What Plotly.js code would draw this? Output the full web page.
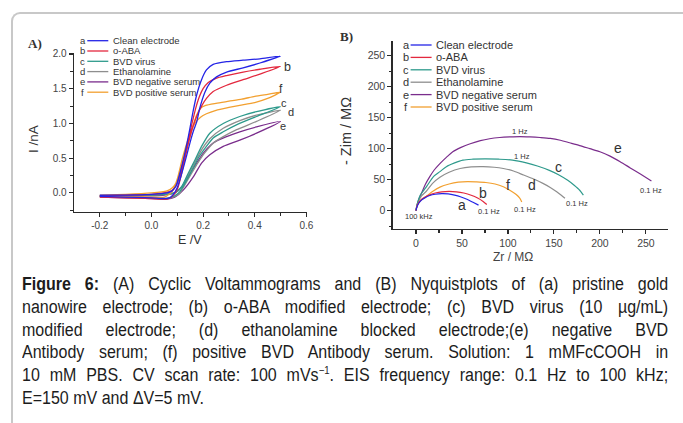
<!DOCTYPE html>
<html><head><meta charset="utf-8">
<script src="https://cdn.plot.ly/plotly-3.0.1.min.js"></script>
<style>
html,body{margin:0;padding:0;background:#fff;width:683px;height:423px;overflow:hidden;}
#frame{position:absolute;left:11px;top:12px;width:720px;height:460px;border-top:2px solid #c8c8c8;border-left:2px solid #c8c8c8;border-top-left-radius:9px;pointer-events:none;}
#chart{position:absolute;left:0;top:0;width:683px;height:423px;}
#caption{position:absolute;left:22px;top:273px;width:726px;color:#1c1c1c;transform-origin:0 0;transform:scale(0.89,1);
  font-family:"Liberation Sans", Arial, sans-serif;font-size:18px;}
#caption div{height:22.8px;line-height:22.8px;text-align:justify;text-align-last:justify;overflow:hidden;}
#caption div.last{text-align-last:left;}
</style></head><body>
<div id="chart"></div>
<div id="frame"></div>
<div id="caption">
<div><b>Figure 6:</b> (A) Cyclic Voltammograms and (B) Nyquistplots of (a) pristine gold</div>
<div>nanowire electrode; (b) o-ABA modified electrode; (c) BVD virus (10 µg/mL)</div>
<div>modified electrode; (d) ethanolamine blocked electrode;(e) negative BVD</div>
<div>Antibody serum; (f) positive BVD Antibody serum. Solution: 1 mMFcCOOH in</div>
<div>10 mM PBS. CV scan rate: 100 mVs<sup style="font-size:0.6em;line-height:0">−1</sup>. EIS frequency range: 0.1 Hz to 100 kHz;</div>
<div class="last">E=150 mV and ΔV=5 mV.</div>
</div>
<script>
// ---------- data ----------
const letters = ['a','b','c','d','e','f'];
const names = ['Clean electrode','o-ABA','BVD virus','Ethanolamine','BVD negative serum','BVD positive serum'];
const colors = ['#2424e6','#e3283e','#2e9a8c','#8e8e8e','#7a2d8c','#f2a030'];

// (A) cyclic voltammograms: E (V), I (nA)
const cvE_a = [-0.2,-0.1,0.0,0.05,0.07,0.085,0.1,0.115,0.13,0.142,0.155,0.165,0.175,0.187,0.207,0.226,0.252,0.291,0.355,0.42,0.5,0.42,0.355,0.291,0.239,0.213,0.194,0.175,0.161,0.149,0.138,0.125,0.11,0.095,0.08,0.06,0.0,-0.1,-0.2];
const cvI_a = [-0.05,-0.06,-0.07,-0.08,-0.07,-0.02,0.08,0.25,0.45,0.62,0.8,0.92,1.02,1.22,1.45,1.58,1.67,1.74,1.80,1.87,1.97,1.93,1.91,1.89,1.85,1.77,1.63,1.41,1.17,0.93,0.72,0.5,0.28,0.1,0.03,0.0,-0.02,-0.03,-0.03];
const cvE_b = [-0.2,-0.1,0.0,0.06,0.08,0.1,0.115,0.13,0.145,0.16,0.175,0.194,0.213,0.239,0.291,0.355,0.42,0.5,0.42,0.355,0.291,0.25,0.22,0.2,0.185,0.17,0.157,0.145,0.13,0.115,0.1,0.085,0.07,0.0,-0.1,-0.2];
const cvI_b = [-0.06,-0.07,-0.08,-0.09,-0.05,0.05,0.25,0.5,0.75,0.95,1.1,1.25,1.36,1.46,1.55,1.63,1.71,1.82,1.78,1.74,1.69,1.65,1.59,1.5,1.38,1.2,1.0,0.8,0.55,0.32,0.14,0.05,0.02,-0.02,-0.03,-0.04];
const cvE_c = [-0.2,-0.1,0.0,0.06,0.09,0.11,0.13,0.155,0.181,0.207,0.239,0.278,0.329,0.407,0.5,0.407,0.342,0.278,0.226,0.194,0.168,0.142,0.117,0.09,0.05,0.0,-0.1,-0.2];
const cvI_c = [-0.05,-0.06,-0.07,-0.08,-0.04,0.02,0.14,0.31,0.5,0.64,0.79,0.88,0.98,1.10,1.24,1.17,1.10,1.0,0.86,0.67,0.47,0.28,0.09,0.0,-0.02,-0.03,-0.03,-0.04];
const cvE_d = [-0.2,-0.1,0.0,0.06,0.09,0.11,0.13,0.155,0.181,0.207,0.24,0.278,0.33,0.407,0.5,0.407,0.342,0.278,0.226,0.194,0.168,0.142,0.117,0.09,0.05,0.0,-0.1,-0.2];
const cvI_d = [-0.05,-0.06,-0.07,-0.08,-0.05,0.0,0.12,0.28,0.44,0.58,0.72,0.81,0.91,1.03,1.19,1.12,1.04,0.93,0.78,0.62,0.44,0.26,0.08,0.0,-0.02,-0.03,-0.04,-0.04];
const cvE_e = [-0.2,-0.1,0.0,0.06,0.09,0.123,0.162,0.194,0.226,0.278,0.342,0.407,0.5,0.407,0.342,0.291,0.239,0.2,0.175,0.149,0.12,0.09,0.05,0.0,-0.1,-0.2];
const cvI_e = [-0.06,-0.07,-0.08,-0.09,-0.06,0.04,0.23,0.43,0.55,0.67,0.76,0.86,1.03,0.95,0.88,0.81,0.72,0.57,0.43,0.28,0.1,0.0,-0.03,-0.04,-0.04,-0.05];
const cvE_f = [-0.2,-0.1,0.0,0.05,0.08,0.1,0.12,0.14,0.155,0.168,0.19,0.213,0.25,0.3,0.342,0.4,0.45,0.5,0.45,0.4,0.35,0.3,0.25,0.21,0.19,0.175,0.16,0.145,0.13,0.115,0.1,0.08,0.06,0.0,-0.1,-0.2];
const cvI_f = [-0.05,-0.05,-0.06,-0.06,0.02,0.2,0.5,0.75,0.9,1.0,1.09,1.14,1.19,1.23,1.26,1.3,1.36,1.45,1.42,1.39,1.35,1.32,1.29,1.26,1.22,1.12,0.95,0.75,0.55,0.35,0.18,0.07,0.03,0.0,-0.02,-0.03];

// (B) Nyquist plots: Zr, -Zim (MOhm)
const zr_a = [0,1,3,6,10,15,21,28,35,42,49,56,62,68];
const zi_a = [0,6,12,17,21,24.5,26.5,27.5,27,25,22,18,13.5,9];
const zr_b = [0,1,3,6,10,15,21,28,36,44,52,60,67,73,77];
const zi_b = [0,7,13,18,22,25.5,28.5,30.5,31,30.5,28.5,25,20.5,15,10];
const zr_c = [0,1,3,5,8,12,19,26,33,42,51,62,75,90,105,120,132,145,155,165,172,178,182];
const zi_c = [0,9,19,26,32,40,55,63,71,77,81.5,83,83.5,83,81.5,77,72,65,58,49,41,33,25];
const zr_d = [0,1,3,6,11,18,26,36,48,60,73,85,95,106,117,128,138,146,153,158,162];
const zi_d = [0,8,16,24,31,44,54,62,68,70.5,71,70,68,64,57.5,51,44,37.5,30.5,25,20];
const zr_e = [0,1,3,6,10,15,20,26,33,40,49,59,70,80,91,102,113,124,135,146,157,167,178,189,200,211,222,233,244,256];
const zi_e = [0,8,18,28,42,55,66,76,86,95,102,108,113,116,118,119,119.5,119,118,116.5,113.5,109.5,105,100,95,88,79,69,59,48];
const zr_f = [0,1,3,6,11,18,26,36,46,56,66,76,86,95,102,109,113,115];
const zi_f = [0,7,13,18,23,31,38,43,46,47,46.5,45.5,43,38.5,33,26,20,14];

// tick labels
const cvXTicks = [-0.2,0.0,0.2,0.4,0.6];
const cvYTicks = [0.0,0.5,1.0,1.5,2.0];
const nyXTicks = [0,50,100,150,200,250];
const nyYTicks = [0,50,100,150,200,250];

// ---------- build ----------
const cvE = [cvE_a,cvE_b,cvE_c,cvE_d,cvE_e,cvE_f];
const cvI = [cvI_a,cvI_b,cvI_c,cvI_d,cvI_e,cvI_f];
const zr = [zr_a,zr_b,zr_c,zr_d,zr_e,zr_f];
const zi = [zi_a,zi_b,zi_c,zi_d,zi_e,zi_f];
const order = [4,3,2,5,1,0];

const FONT = '"Liberation Sans", Arial, sans-serif';
const W = 683, H = 423;
const px = v => v / W;
const py = v => 1 - v / H;

const traces = [];
order.forEach(i => traces.push({x: cvE[i], y: cvI[i], xaxis:'x', yaxis:'y', type:'scatter', mode:'lines',
  name: names[i], showlegend:false, hoverinfo:'skip',
  line:{color: colors[i], width:1.3, shape:'spline', smoothing:0.6}}));
order.forEach(i => traces.push({x: zr[i], y: zi[i], xaxis:'x2', yaxis:'y2', type:'scatter', mode:'lines',
  name: names[i], showlegend:false, hoverinfo:'skip',
  line:{color: colors[i], width:1.2, shape:'spline', smoothing:0.8}}));

const axBase = {showgrid:false, zeroline:false, showline:true, linecolor:'#2a2a2a', linewidth:1.4,
  ticks:'outside', ticklen:4, tickwidth:1.1, tickcolor:'#2a2a2a', fixedrange:true};

const annotations = [];
const shapes = [];
// legends (drawn in paper space)
function legend(x0, y0, dy, size) {
  letters.forEach((l, i) => {
    const yy = y0 + i * dy;
    annotations.push({xref:'paper', yref:'paper', x:px(x0), y:py(yy), text:l, showarrow:false,
      xanchor:'center', yanchor:'middle', font:{family:FONT, size:size, color:'#333'}});
    shapes.push({type:'line', xref:'paper', yref:'paper', x0:px(x0+4.6), x1:px(x0+25.6), y0:py(yy), y1:py(yy),
      line:{color:colors[i], width:1.3}});
    annotations.push({xref:'paper', yref:'paper', x:px(x0+28), y:py(yy), text:names[i], showarrow:false,
      xanchor:'left', yanchor:'middle', font:{family:FONT, size:size, color:'#333'}});
  });
}
legend(82.7, 40.7, 10.3, 9.5);
legend(406, 45, 12.4, 11);

// panel labels
annotations.push({xref:'paper', yref:'paper', x:px(35), y:py(43), text:'<b>A)</b>', showarrow:false,
  xanchor:'center', yanchor:'middle', font:{family:'"Liberation Serif", serif', size:13, color:'#333'}});
annotations.push({xref:'paper', yref:'paper', x:px(346), y:py(36), text:'<b>B)</b>', showarrow:false,
  xanchor:'center', yanchor:'middle', font:{family:'"Liberation Serif", serif', size:13, color:'#333'}});

// axis titles
annotations.push({xref:'paper', yref:'paper', x:px(190), y:py(240), text:'E /V', showarrow:false,
  xanchor:'center', yanchor:'middle', font:{family:FONT, size:12.5, color:'#333'}});
annotations.push({xref:'paper', yref:'paper', x:px(34), y:py(139), text:'I /nA', showarrow:false, textangle:-90,
  xanchor:'center', yanchor:'middle', font:{family:FONT, size:13.5, color:'#333'}});
annotations.push({xref:'paper', yref:'paper', x:px(513), y:py(257), text:'Zr / MΩ', showarrow:false,
  xanchor:'center', yanchor:'middle', font:{family:FONT, size:12, color:'#444'}});
annotations.push({xref:'paper', yref:'paper', x:px(346), y:py(131), text:'- Zim / MΩ', showarrow:false, textangle:-90,
  xanchor:'center', yanchor:'middle', font:{family:FONT, size:14.5, color:'#333'}});

// curve letters (A)
const cvLab = [[0.407,2.03,12.5],[0.525,1.81,12.5],[0.512,1.30,11],[0.542,1.16,11],[0.51,0.96,11],[0.503,1.50,12]];
cvLab.forEach((p, i) => annotations.push({xref:'x', yref:'y', x:p[0], y:p[1], text:letters[i], showarrow:false,
  xanchor:'center', yanchor:'middle', font:{family:FONT, size:p[2], color:'#333'}}));
// curve letters (B)
const nyLab = [[49.6,9],[73,28],[154.7,71],[125.7,41],[220,101.6],[100,41]];
nyLab.forEach((p, i) => annotations.push({xref:'x2', yref:'y2', x:p[0], y:p[1], text:letters[i], showarrow:false,
  xanchor:'center', yanchor:'middle', font:{family:FONT, size:14, color:'#333'}}));
// frequency labels (B)
const fLab = [['1 Hz',113,127],['1 Hz',115,87],['0.1 Hz',255,33],['0.1 Hz',175,12],['0.1 Hz',119,2],['0.1 Hz',79,-1.6],['100 kHz',3,-9.7]];
fLab.forEach(p => annotations.push({xref:'x2', yref:'y2', x:p[1], y:p[2], text:p[0], showarrow:false,
  xanchor:'center', yanchor:'middle', font:{family:FONT, size:7.5, color:'#333'}}));

const layout = {
  width: W, height: H, margin:{l:0,r:0,t:0,b:0},
  paper_bgcolor:'rgba(0,0,0,0)', plot_bgcolor:'rgba(0,0,0,0)', showlegend:false,
  xaxis: Object.assign({}, axBase, {domain:[0.1083,0.449], anchor:'y', range:[-0.3,0.601],
    tickvals: cvXTicks, ticktext: cvXTicks.map(v => v.toFixed(1)),
    minor:{tickvals:[-0.1,0.1,0.3,0.5], ticks:'outside', ticklen:2.5, tickcolor:'#2a2a2a'},
    tickfont:{family:FONT, size:10, color:'#444'}}),
  yaxis: Object.assign({}, axBase, {domain:[0.4995,0.8757], anchor:'x', range:[-0.27,2.02],
    tickvals: cvYTicks, ticktext: cvYTicks.map(v => v.toFixed(1)),
    minor:{tickvals:[-0.25,0.25,0.75,1.25,1.75], ticks:'outside', ticklen:2.5, tickcolor:'#2a2a2a'},
    tickfont:{family:FONT, size:10, color:'#444'}}),
  xaxis2: Object.assign({}, axBase, {domain:[0.575,0.978], anchor:'y2', range:[-25.3,274],
    tickvals: nyXTicks, ticktext: nyXTicks.map(String),
    minor:{tickvals:[25,75,125,175,225], ticks:'outside', ticklen:2.5, tickcolor:'#2a2a2a'},
    tickfont:{family:FONT, size:10.5, color:'#444'}}),
  yaxis2: Object.assign({}, axBase, {domain:[0.4586,0.9038], anchor:'x2', range:[-29.5,274],
    tickvals: nyYTicks, ticktext: nyYTicks.map(String),
    minor:{tickvals:[-25,25,75,125,175,225], ticks:'outside', ticklen:2.5, tickcolor:'#2a2a2a'},
    tickfont:{family:FONT, size:10.5, color:'#444'}}),
  annotations: annotations, shapes: shapes
};

Plotly.newPlot('chart', traces, layout, {displayModeBar:false, staticPlot:true});
</script>
</body></html>
